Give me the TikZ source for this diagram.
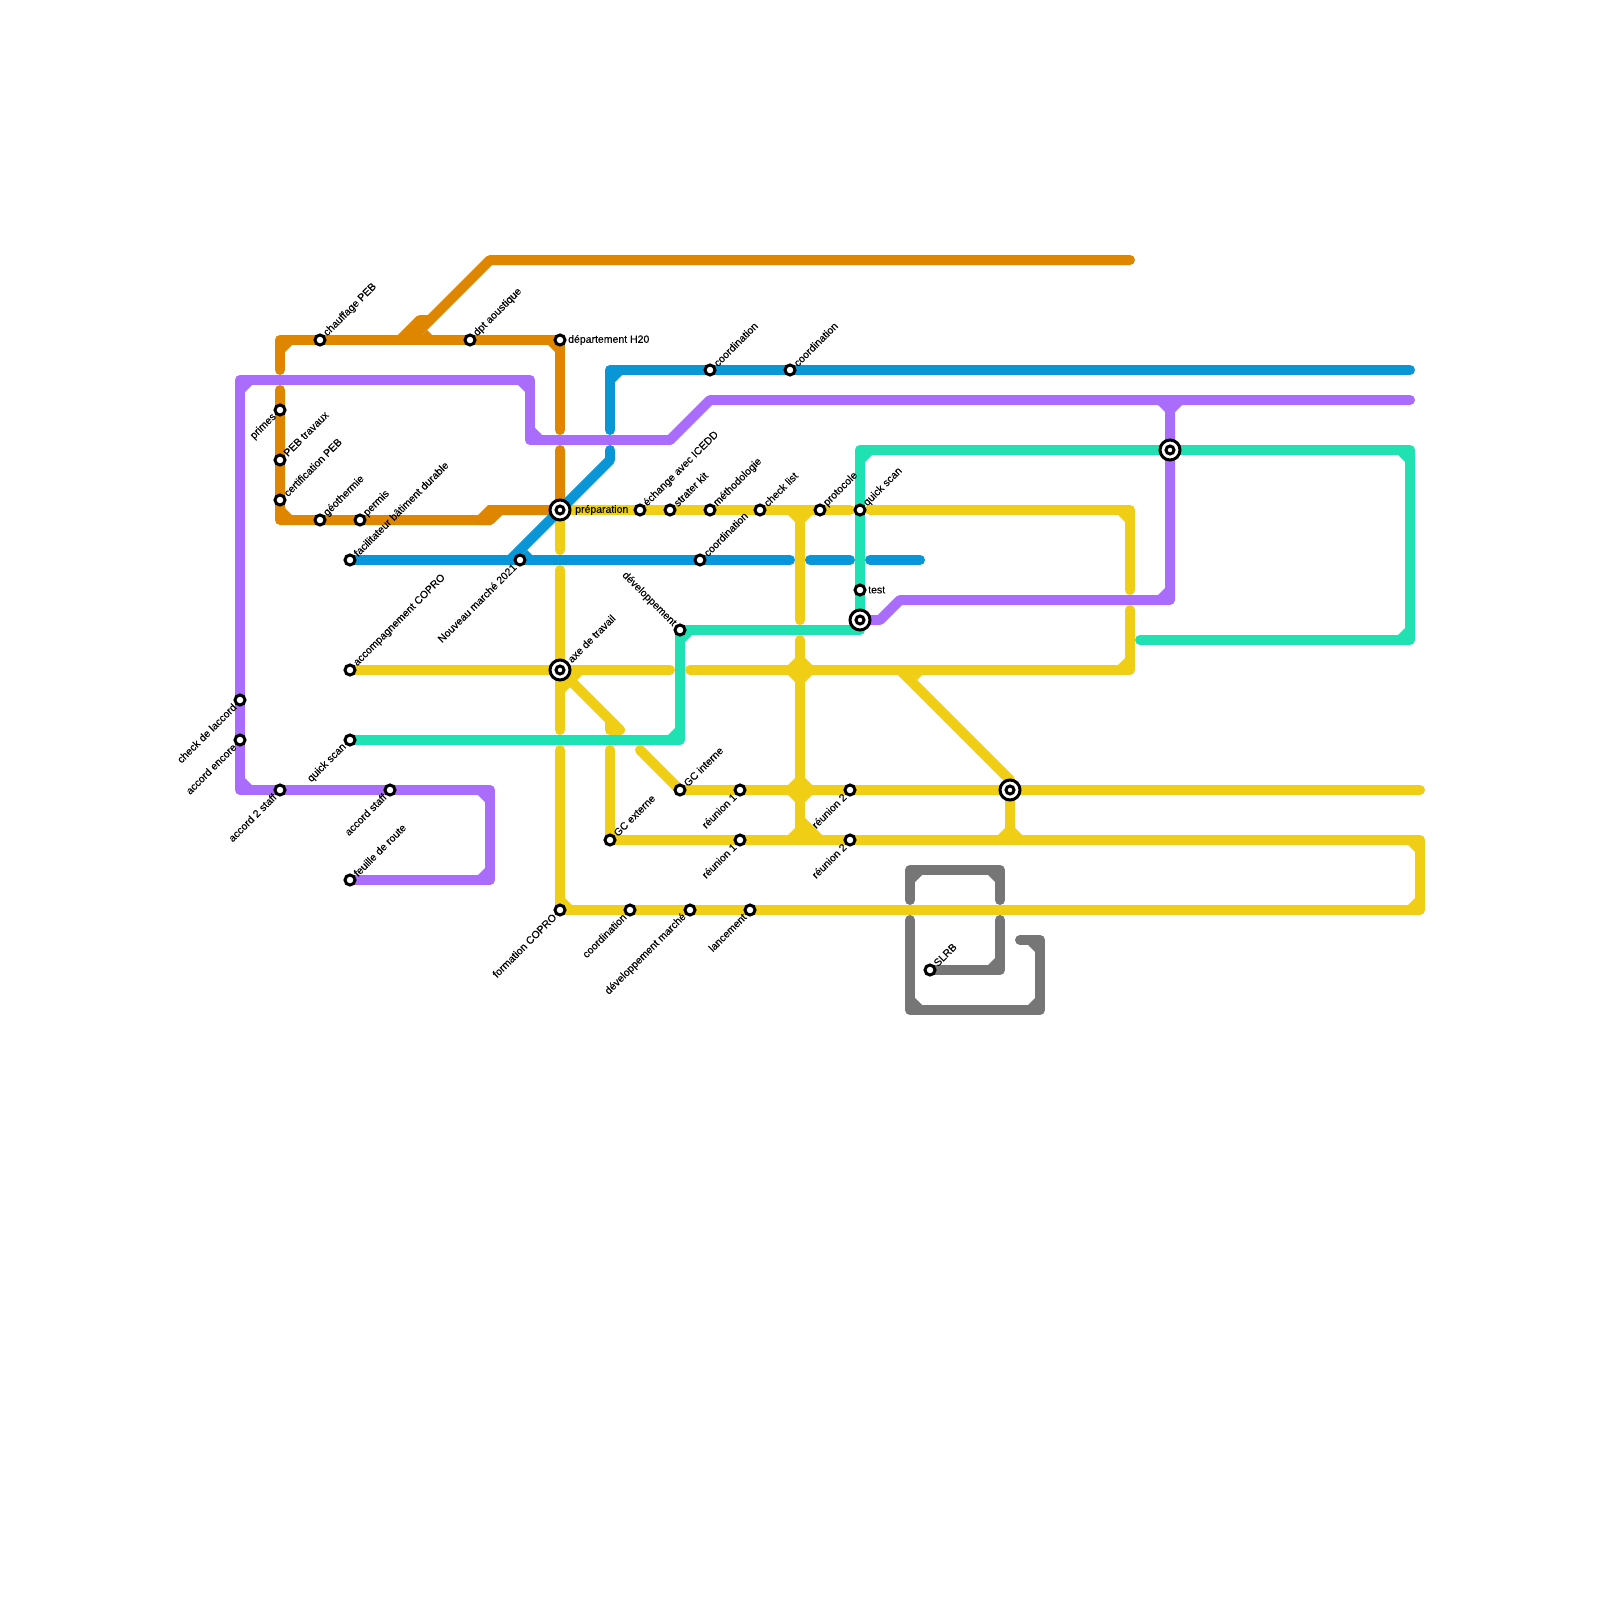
\documentclass[tikz,border=0pt]{standalone}
\usepackage{fontspec}
\setmainfont{Liberation Sans}[FakeBold=0.25]
\usepackage{tikz}
\usetikzlibrary{positioning}
\definecolor{lineOrange}{RGB}{223,134,0}
\definecolor{lineBlue}{RGB}{9,150,215}
\definecolor{linePurple}{RGB}{170,108,250}
\definecolor{lineGreen}{RGB}{31,225,177}
\definecolor{lineYellow}{RGB}{240,206,21}
\definecolor{lineGray}{RGB}{118,118,118}

\begin{document}
\begin{tikzpicture}[
  x=1pt, y=-1pt,
  route/.style={draw=#1, line width=10pt, line cap=round, line join=round},
  station/.style={circle, draw=black, fill=white, line width=3pt, minimum size=10pt, inner sep=0pt},
  hubdot/.style={station, minimum size=8pt},
  hub/.style={circle, draw=black, fill=white, line width=3pt, minimum size=20pt, inner sep=0pt},
  txt/.style={font=\fontsize{10.5}{12}\selectfont, inner ysep=0pt, text=black},
  txtne/.style={txt, anchor=west, rotate=45, inner xsep=7.5pt},
  txtsw/.style={txt, anchor=east, rotate=45, inner xsep=7.5pt},
  txtnw/.style={txt, anchor=east, rotate=-45, inner xsep=7.5pt},
  txte/.style={txt, anchor=west, inner xsep=8pt},
]
\useasboundingbox (0,0) rectangle (1600,1600);
\fill[white] (0,0) rectangle (1600,1600);

% Stations
\foreach \n/\x/\y in {
  chauffage/320/340, dpt/470/340, pebtravaux/280/460, certif/280/500, geotherm/320/520, permis/360/520,
  facilit/350/560, accomp/350/670, feuille/350/880, coordA/710/370, coordB/790/370, icedd/640/510,
  strater/670/510, methodo/710/510, checklist/760/510, protocole/820/510, quickB/860/510, coordC/700/560,
  gcint/680/790, gcext/610/840, slrb/930/970, primes/280/410, checkacc/240/700, encore/240/740,
  accordB/280/790, accordA/390/790, quickA/350/740, nouveau/520/560, formation/560/910, coordD/630/910,
  devmarche/690/910, lancement/750/910, reunionA/740/790, reunionB/850/790, reunionC/740/840,
  reunionD/850/840, dev/680/630, depart/560/340, test/860/590, prep/560/510, axe/560/670,
  hubA/860/620, hubB/1170/450, hubC/1010/790}
  {\coordinate (\n) at (\x,\y);}

% Bends
\foreach \n/\x/\y in {
  orA/1130/260, orB/490/260, orC/410/340, orD/400/340, orE/420/320, orF/430/320, orG/280/370,
  orH/280/340, orJ/560/430, orK/280/390, orL/280/520, orM/490/520, orN/500/510, orR/560/450,
  blA/1410/370, blB/610/370, blC/610/430, blD/610/450, blE/610/460, blF/510/560, blG/790/560,
  blH/810/560, blI/850/560, blJ/870/560, blK/920/560,
  puA/670/440, puB/530/440, puC/530/380, puD/240/380, puE/240/790, puF/490/790, puG/490/880,
  puH/710/400, puI/1410/400, puJ/1170/400, puK/1170/600, puL/900/600, puM/880/620,
  grA/680/740, grB/860/630, grC/860/450, grD/1410/450, grE/1410/640, grF/1140/640,
  yeA/850/510, yeB/870/510, yeC/1130/510, yeD/1130/590, yeE/800/510, yeF/800/620, yeG/800/640,
  yeH/800/840, yeI/670/670, yeJ/690/670, yeK/1130/670, yeL/1130/610, yeM/560/550, yeN/560/570,
  yeO/560/730, yeP/560/750, yeQ/1420/910, yeR/1420/840, yeS/610/750, yeT/620/730, yeU/610/730,
  yeV/610/720, yeW/640/750, yeX/1420/790, yeY/900/670, yeZ/1010/780, yeAA/1010/840,
  gyA/910/900, gyB/910/870, gyC/1000/870, gyD/1000/900, gyE/910/920, gyF/910/1010, gyG/1040/1010,
  gyH/1040/940, gyI/1020/940, gyJ/1000/920, gyK/1000/970}
  {\coordinate (\n) at (\x,\y);}

% Yellow
\draw[route=lineYellow] (prep) -- (yeA);
\draw[route=lineYellow] (yeB) -- (yeC) -- (yeD);
\draw[route=lineYellow] (yeE) -- (yeF);
\draw[route=lineYellow] (yeG) -- (yeH);
\draw[route=lineYellow] (accomp) -- (yeI);
\draw[route=lineYellow] (yeJ) -- (yeK) -- (yeL);
\draw[route=lineYellow] (prep) -- (yeM);
\draw[route=lineYellow] (yeN) -- (yeO);
\draw[route=lineYellow] (yeP) -- (formation) -- (yeQ) -- (yeR) -- (gcext) -- (yeS);
\draw[route=lineYellow] (axe) -- (yeT) -- (yeU) -- (yeV);
\draw[route=lineYellow] (yeW) -- (gcint) -- (yeX);
\draw[route=lineYellow] (yeY) -- (yeZ) -- (hubC) -- (yeAA);
\foreach \x/\y/\i/\j in {
  795/515/-1/1, 805/515/1/1, 795/665/-1/-1, 805/665/1/-1, 795/675/-1/1, 805/675/1/1,
  795/785/-1/-1, 805/785/1/-1, 795/795/-1/1, 805/795/1/1, 795/835/-1/-1, 1005/835/-1/-1,
  1015/835/1/-1, 1125/515/-1/1, 1125/665/-1/-1, 1415/845/-1/1, 1415/905/-1/-1, 565/905/1/-1}
  {\fill[lineYellow] (\x,\y) -- ++(7*\i,0) -- ++(-7*\i,7*\j) -- cycle;}
\fill[lineYellow] (805,818) -- (822,835) -- (805,835) -- cycle;
\fill[lineYellow] (912,675) -- (917,680) -- (922,675) -- cycle;
\fill[lineYellow] (572,675) -- (577,680) -- (582,675) -- cycle;
\fill[lineYellow] (565,682) -- (570,687) -- (565,692) -- cycle;

% Gray
\draw[route=lineGray] (gyA) -- (gyB) -- (gyC) -- (gyD);
\draw[route=lineGray] (gyE) -- (gyF) -- (gyG) -- (gyH) -- (gyI);
\draw[route=lineGray] (gyJ) -- (gyK) -- (slrb);
\foreach \x/\y/\i/\j in {915/875/1/1, 995/875/-1/1, 995/965/-1/-1, 915/1005/1/-1, 1035/1005/-1/-1, 1035/945/-1/1}
  {\fill[lineGray] (\x,\y) -- ++(7*\i,0) -- ++(-7*\i,7*\j) -- cycle;}

% Orange
\draw[route=lineOrange] (orA) -- (orB) -- (orC);
\draw[route=lineOrange] (orD) -- (orE) -- (orF);
\draw[route=lineOrange] (orG) -- (orH) -- (depart) -- (orJ);
\draw[route=lineOrange] (orK) -- (orL) -- (orM) -- (orN) -- (prep) -- (orR);
\fill[lineOrange] (478,515) -- (488,505) -- (502,505) -- (502,515) -- (491,525) -- (478,525) -- cycle;
\foreach \x/\y/\i/\j in {285/345/1/1, 555/345/-1/1, 285/515/1/-1}
  {\fill[lineOrange] (\x,\y) -- ++(7*\i,0) -- ++(-7*\i,7*\j) -- cycle;}
\fill[lineOrange] (422,335) -- (427,330) -- (432,335) -- cycle;

% Blue
\draw[route=lineBlue] (blA) -- (blB) -- (blC);
\draw[route=lineBlue] (blD) -- (blE) -- (blF);
\draw[route=lineBlue] (facilit) -- (blG);
\draw[route=lineBlue] (blH) -- (blI);
\draw[route=lineBlue] (blJ) -- (blK);
\fill[lineBlue] (615,375) -- ++(7,0) -- ++(-7,7) -- cycle;
\fill[lineBlue] (522,555) -- (527,550) -- (532,555) -- cycle;

% Purple
\draw[route=linePurple] (puA) -- (puB) -- (puC) -- (puD) -- (puE) -- (puF) -- (puG) -- (feuille);
\draw[route=linePurple] (puA) -- (puH) -- (puI);
\draw[route=linePurple] (puJ) -- (puK) -- (puL) -- (puM) -- (hubA);
\foreach \x/\y/\i/\j in {
  525/385/-1/1, 535/435/1/-1, 245/385/1/1, 245/785/1/-1, 485/795/-1/1, 485/875/-1/-1,
  1165/595/-1/-1, 1165/405/-1/1, 1175/405/1/1}
  {\fill[linePurple] (\x,\y) -- ++(7*\i,0) -- ++(-7*\i,7*\j) -- cycle;}

% Green
\draw[route=lineGreen] (quickA) -- (grA) -- (dev) -- (grB) -- (grC) -- (grD) -- (grE) -- (grF);
\foreach \x/\y/\i/\j in {685/635/1/1, 675/735/-1/-1, 865/455/1/1, 1405/455/-1/1, 1405/635/-1/-1}
  {\fill[lineGreen] (\x,\y) -- ++(7*\i,0) -- ++(-7*\i,7*\j) -- cycle;}

% Station marks on top
\foreach \n in {chauffage, dpt, pebtravaux, certif, geotherm, permis, facilit, accomp, feuille,
  coordA, coordB, icedd, strater, methodo, checklist, protocole, quickB, coordC, gcint, gcext, slrb,
  primes, checkacc, encore, accordB, accordA, quickA, nouveau, formation, coordD, devmarche,
  lancement, reunionA, reunionB, reunionC, reunionD, dev, depart, test}
  {\node[station] (\n-st) at (\n) {};}
\foreach \n in {prep, axe, hubA, hubB, hubC}
  {\node[hub] (\n-ring) at (\n) {};
   \node[hubdot] (\n-st) at (\n) {};}

% Labels up right
\foreach \n/\t in {
  chauffage/chauffage PEB, dpt/dpt aoustique, pebtravaux/PEB travaux, certif/certification PEB,
  geotherm/géothermie, permis/permis, facilit/facilitateur bâtiment durable,
  accomp/accompagnement COPRO, feuille/feuille de route, coordA/coordination, coordB/coordination,
  icedd/échange avec ICEDD, strater/strater kit, methodo/méthodologie, checklist/check list,
  protocole/protocole, quickB/quick scan, coordC/coordination, gcint/GC interne, gcext/GC externe,
  slrb/SLRB}
  {\node[txtne] (\n-txt) at (\n) {\t};}
% Labels down left
\foreach \n/\t in {
  primes/primes, checkacc/check de laccord, encore/accord encore, accordB/accord 2 staff,
  accordA/accord staff, quickA/quick scan, nouveau/Nouveau marché 2021, formation/formation COPRO,
  coordD/coordination, devmarche/développement marché, lancement/lancement, reunionA/réunion 1,
  reunionB/réunion 2, reunionC/réunion 1, reunionD/réunion 2}
  {\node[txtsw] (\n-txt) at (\n) {\t};}
\node[txte] (depart-txt) at (depart) {département H20};
\node[txte] (test-txt) at (test) {test};
\node[txte, inner xsep=15pt] (prep-txt) at (prep) {préparation};
\node[txtne, inner xsep=13pt] (axe-txt) at (axe) {axe de travail};
\node[txtnw] (dev-txt) at (dev) {développement};
\end{tikzpicture}
\end{document}
